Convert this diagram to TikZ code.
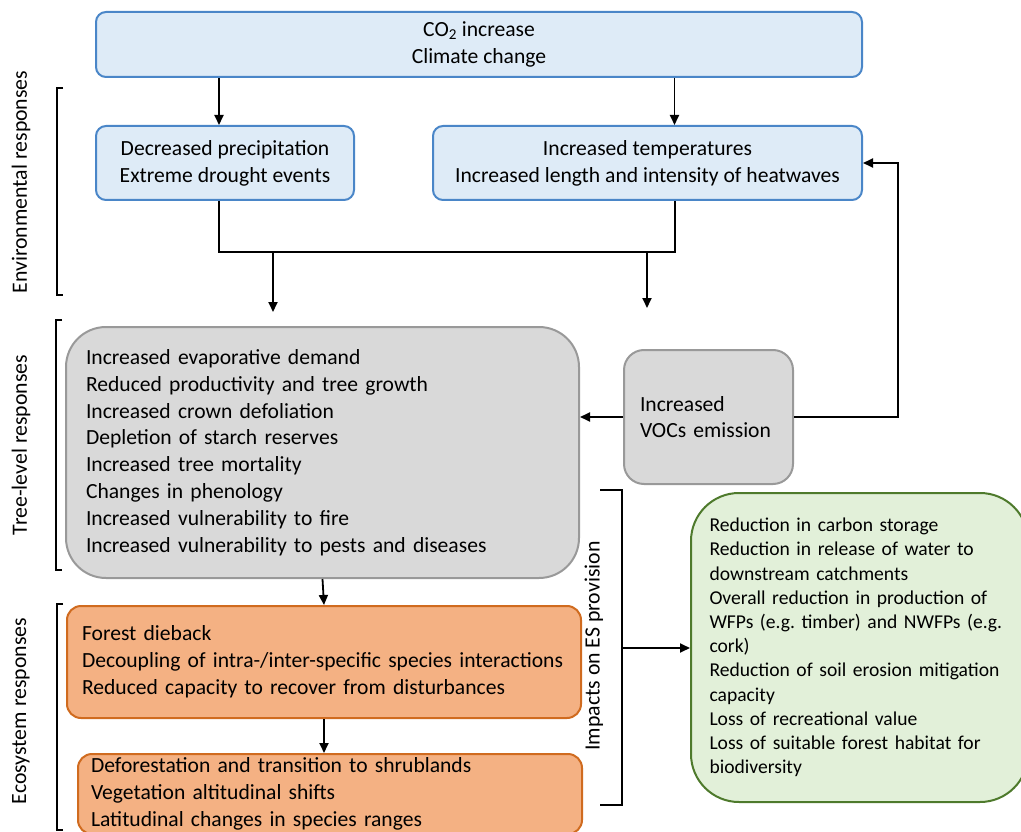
\documentclass[tikz,border=0pt]{standalone}
\usepackage{fontspec}
\setmainfont{Carlito}
\usetikzlibrary{arrows.meta}
\usetikzlibrary{calc}
\usetikzlibrary{positioning}

\definecolor{skyfill}{HTML}{DEEBF7}
\definecolor{skyline}{HTML}{4A86C8}
\definecolor{greyfill}{HTML}{D9D9D9}
\definecolor{greyline}{HTML}{999999}
\definecolor{rustfill}{HTML}{F4B183}
\definecolor{rustline}{HTML}{D06B1F}
\definecolor{leaffill}{HTML}{E2F0D9}
\definecolor{leafline}{HTML}{4E7A2C}

\tikzset{
	box/.style={line width=2pt, inner sep=0pt, font=\fontsize{21.6}{26.8}\selectfont},
	envbox/.style={box, draw=skyline, fill=skyfill, rounded corners=10pt, align=center},
	treebox/.style={box, draw=greyline, fill=greyfill, align=left},
	ecobox/.style={box, draw=rustline, fill=rustfill, rounded corners=14pt, align=left},
	esbox/.style={box, draw=leafline, fill=leaffill, rounded corners=48pt, align=left, font=\fontsize{19.6}{24.2}\selectfont\frenchspacing},
	flow/.style={-{Triangle[length=10pt,width=9pt]}, line width=1.8pt},
	wire/.style={line width=1.8pt},
	brack/.style={line width=1.8pt},
	side/.style={rotate=90, font=\fontsize{21.8}{26}\selectfont}
}

\begin{document}
\begin{tikzpicture}[x=1pt,y=-1pt]
			\useasboundingbox (0,0) rectangle (1021,832);
			\clip (0,0) rectangle (1021,832);
			
			\node[envbox, minimum width=766pt, minimum height=65pt] (co2) at (479,44.5) {CO\textsubscript{2} increase\\Climate change};
			
			\node[envbox, minimum width=258pt, minimum height=74pt] (prec) at (225,163) {Decreased precipitation\\Extreme drought events};
			
			\node[envbox, minimum width=429pt, minimum height=74pt] (temp) at (647.5,163) {Increased temperatures\\Increased length and intensity of heatwaves};
			
			\node[treebox, rounded corners=40pt, minimum width=513pt, minimum height=251pt, text width=473pt] (tree) at (322.5,452.5) {Increased evaporative demand\\Reduced productivity and tree growth\\Increased crown defoliation\\Depletion of starch reserves\\Increased tree mortality\\Changes in phenology\\Increased vulnerability to fire\\Increased vulnerability to pests and diseases};
			
			\node[treebox, rounded corners=20pt, minimum width=169pt, minimum height=134pt, text width=137pt] (voc) at (708.5,417) {Increased\\VOCs emission};
			
			\node[ecobox, minimum width=514pt, minimum height=112pt, text width=484pt] (dieback) at (324,662) {Forest dieback\\Decoupling of intra-/inter-specific species interactions\\Reduced capacity to recover from disturbances};
			
			\node[ecobox, minimum width=504pt, minimum height=80pt, text width=478pt] (shift) at (330,794) {Deforestation and transition to shrublands\\Vegetation altitudinal shifts\\Latitudinal changes in species ranges};
			
			\node[esbox, minimum width=337pt, minimum height=309pt, text width=300pt] (es) at (859.5,647.5) {Reduction in carbon storage\\Reduction in release of water to\\downstream catchments\\Overall reduction in production of\\WFPs (e.g. timber) and NWFPs (e.g.\\cork)\\Reduction of soil erosion mitigation\\capacity\\Loss of recreational value\\Loss of suitable forest habitat for\\biodiversity};
			
			\coordinate (pin) at ([xshift=-6pt]prec.north);
			\coordinate (pout) at ([xshift=-6pt]prec.south);
			\coordinate (tin) at ([xshift=27pt]temp.north);
			\coordinate (tout) at ([xshift=27.5pt]temp.south);
			\coordinate (bus) at (0,252);
			\coordinate (treein) at (273,312);
			\coordinate (vocin) at (647,308);
			\coordinate (loop) at (898,163);
			\coordinate (esbr) at (622,648);
			
			\draw[flow] (pin |- co2.south) -- (pin);
			\draw[flow] (tin |- co2.south) -- (tin);
			
			\draw[wire] (pout) |- (bus -| tout) -- (tout);
			\draw[flow] (bus -| treein) -- (treein);
			\draw[flow] (bus -| vocin) -- (vocin);
			
			\draw[flow] (voc.west) -- (voc.west -| tree.east);
			\draw[flow] (voc.east) -| (loop) -- (temp.east);
			
			\draw[flow] (tree.south) -- (dieback.north);
			\draw[flow] (dieback.south) -- (dieback.south |- shift.north);
			
			\draw[brack] (63,88) -- (57,88) -- (57,295) -- (63,295);
			\node[side] (envlab) at (21,182) {Environmental responses};
			
			\draw[brack] (62,320) -- (56,320) -- (56,570) -- (62,570);
			\node[side] (treelab) at (21,445) {Tree-level responses};
			
			\draw[brack] (63,604) -- (57,604) -- (57,830) -- (63,830);
			\node[side] (ecolab) at (21,711) {Ecosystem responses};
			
			\draw[brack] (600,490) -- (622,490) -- (622,805) -- (600,805);
			\node[side] (eslab) at (594,646) {Impacts on ES provision};
			\draw[flow] (esbr) -- (esbr -| es.west);
			
		\end{tikzpicture}
\end{document}
